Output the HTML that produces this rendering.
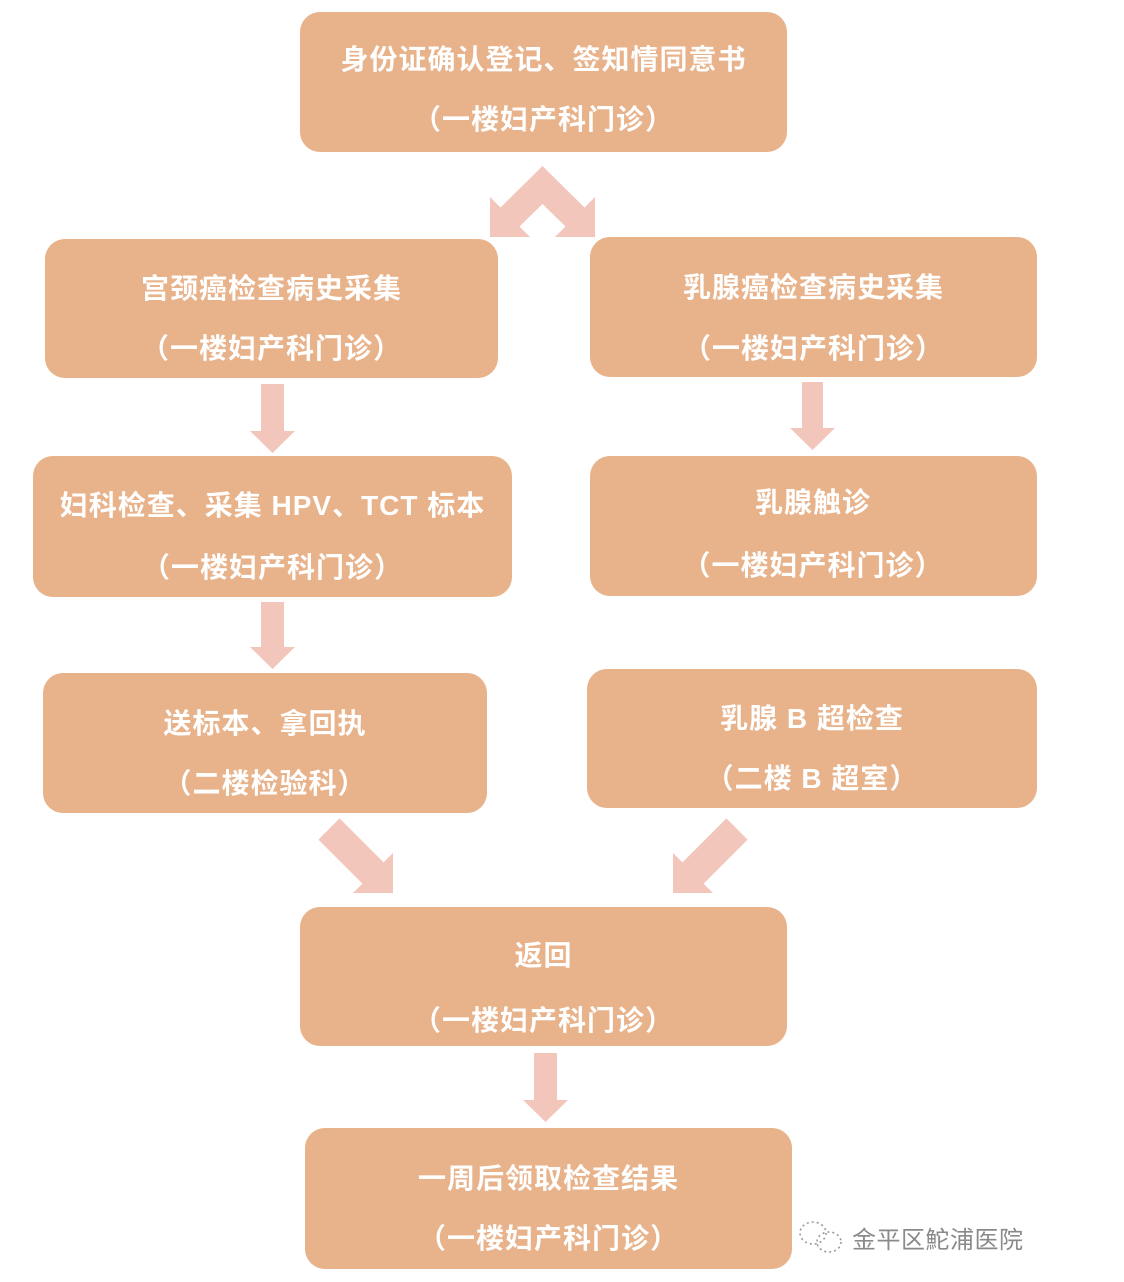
<!DOCTYPE html>
<html>
<head>
<meta charset="utf-8">
<style>
html,body{margin:0;padding:0;background:#ffffff;}
body{width:1124px;height:1282px;overflow:hidden;}
svg{display:block;}
.t{font-family:"Liberation Sans","Noto Sans CJK SC",sans-serif;font-weight:bold;font-size:28px;fill:#ffffff;letter-spacing:1px;}
.w{font-family:"Liberation Sans","Noto Sans CJK SC",sans-serif;font-size:24px;fill:#8a8a8a;}
</style>
</head>
<body>
<svg width="1124" height="1282" viewBox="0 0 1124 1282" xmlns="http://www.w3.org/2000/svg">
  <rect x="0" y="0" width="1124" height="1282" fill="#ffffff"/>

  <!-- arrows -->
  <g fill="#F3C6BB">
    <!-- top double chevron -->
    <polygon points="542.5,166 500.5,207.5 490,197 490,237 530,237 519.5,226.5 542.5,204 565.5,226.5 555,237 595,237 595,197 584.5,207.5"/>
    <!-- left vertical arrows -->
    <polygon points="261,384 284,384 284,431 295,431 272.5,453 250,431 261,431"/>
    <polygon points="261,602 284,602 284,647 295,647 272.5,669 250,647 261,647"/>
    <!-- right vertical arrow -->
    <polygon points="802,382 823,382 823,428 835,428 812.5,450 790,428 802,428"/>
    <!-- bottom arrow -->
    <polygon points="534,1053 557,1053 557,1100 568,1100 545.5,1122 523,1100 534,1100"/>
    <!-- left diagonal arrow -->
    <polygon points="339.6,818.4 383.6,862.4 393,853 393,893 353,893 362.4,883.6 318.4,839.6"/>
    <!-- right diagonal arrow -->
    <polygon points="726.4,818.4 682.4,862.4 673,853 673,893 713,893 703.6,883.6 747.6,839.6"/>
  </g>

  <!-- boxes -->
  <g fill="#E8B28A">
    <rect x="300" y="12" width="487" height="140" rx="20" ry="20"/>
    <rect x="45" y="239" width="453" height="139" rx="20" ry="20"/>
    <rect x="590" y="237" width="447" height="140" rx="20" ry="20"/>
    <rect x="33" y="456" width="479" height="141" rx="20" ry="20"/>
    <rect x="590" y="456" width="447" height="140" rx="20" ry="20"/>
    <rect x="43" y="673" width="444" height="140" rx="20" ry="20"/>
    <rect x="587" y="669" width="450" height="139" rx="20" ry="20"/>
    <rect x="300" y="907" width="487" height="139" rx="20" ry="20"/>
    <rect x="305" y="1128" width="487" height="141" rx="20" ry="20"/>
  </g>

  <!-- texts -->
  <g class="t" text-anchor="middle">
    <text x="543.5" y="69">身份证确认登记、签知情同意书</text>
    <text x="543.5" y="129">（一楼妇产科门诊）</text>

    <text x="271.5" y="298">宫颈癌检查病史采集</text>
    <text x="271.5" y="358">（一楼妇产科门诊）</text>

    <text x="813.5" y="297">乳腺癌检查病史采集</text>
    <text x="813.5" y="358">（一楼妇产科门诊）</text>

    <text x="272.5" y="515">妇科检查、采集 HPV、TCT 标本</text>
    <text x="272.5" y="577">（一楼妇产科门诊）</text>

    <text x="813" y="512">乳腺触诊</text>
    <text x="813" y="575">（一楼妇产科门诊）</text>

    <text x="265" y="733">送标本、拿回执</text>
    <text x="265" y="793">（二楼检验科）</text>

    <text x="812" y="728">乳腺 B 超检查</text>
    <text x="812" y="788">（二楼 B 超室）</text>

    <text x="543.5" y="965">返回</text>
    <text x="543.5" y="1030">（一楼妇产科门诊）</text>

    <text x="548.5" y="1188">一周后领取检查结果</text>
    <text x="548.5" y="1248">（一楼妇产科门诊）</text>
  </g>

  <!-- watermark -->
  <g fill="none" stroke="#9a9a9a" stroke-width="1.6" stroke-dasharray="2 3">
    <ellipse cx="813" cy="1233" rx="13" ry="11"/>
    <ellipse cx="829" cy="1242" rx="12" ry="10"/>
  </g>
  <text class="w" x="852" y="1248" letter-spacing="0.5">金平区鮀浦医院</text>
</svg>
</body>
</html>
